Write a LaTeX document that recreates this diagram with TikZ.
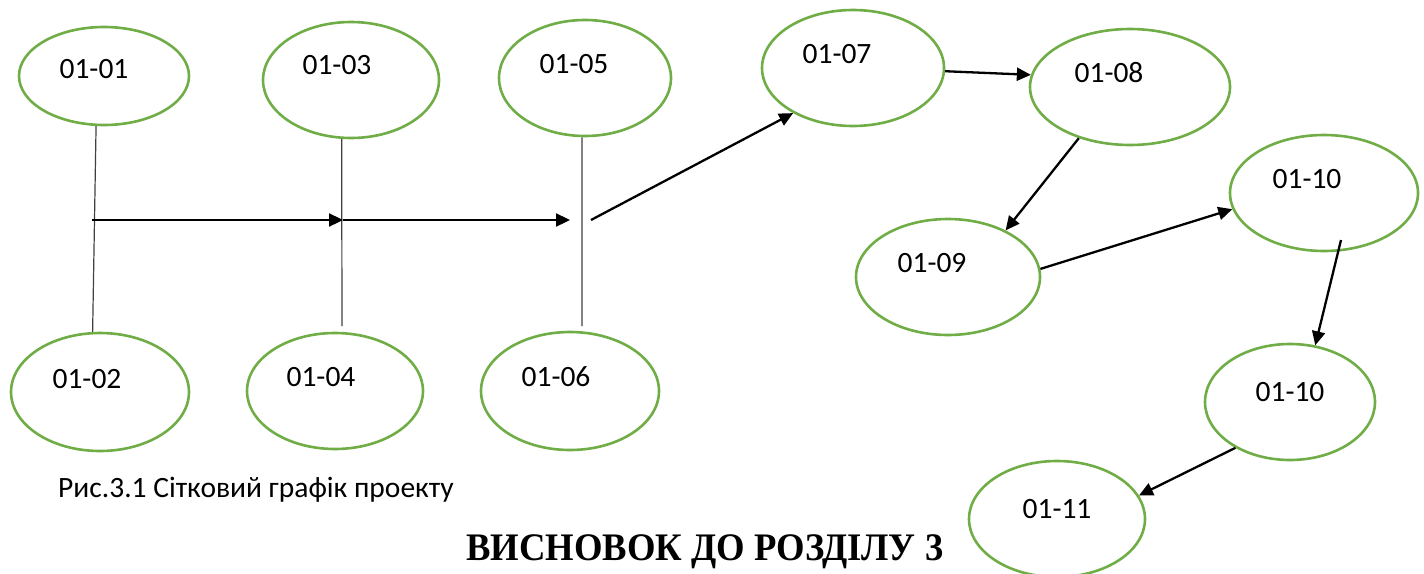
\documentclass[tikz,border=0pt]{standalone}
\usepackage{fontspec}
\setmainfont{Carlito}
\newfontfamily\titlefont{Liberation Serif}
\usetikzlibrary{shapes.geometric,arrows.meta}
\definecolor{nodegreen}{HTML}{70AD47}
\begin{document}
\begin{tikzpicture}[x=1pt,y=-1pt,
  ev/.style n args={2}{ellipse,draw=nodegreen,line width=2.6pt,inner sep=0pt,
     minimum width=#1,minimum height=#2},
  lbl/.style={font=\fontsize{29.5}{31}\selectfont,inner sep=0pt},
  arr/.style={-{Triangle[length=14pt,width=13pt]},line width=2.3pt,draw=black},
  vline/.style={line width=1.2pt,draw=black!75}]
\useasboundingbox (0,0) rectangle (1424,573);
% top row
\node[ev={170}{98},label={[lbl,xshift=-10pt,yshift=7pt]center:01-01}] (n1) at (104,76) {};
\node[ev={176}{116},label={[lbl,xshift=-14pt,yshift=15pt]center:01-03}] (n3) at (351,80) {};
\node[ev={172}{116},label={[lbl,xshift=-11pt,yshift=14pt]center:01-05}] (n5) at (585,78) {};
\node[ev={182}{116},label={[lbl,xshift=-16pt,yshift=14pt]center:01-07}] (n7) at (853,68) {};
\node[ev={200}{116},label={[lbl,xshift=-21pt,yshift=14pt]center:01-08}] (n8) at (1130,87) {};
\node[ev={184}{116},label={[lbl,xshift=-16pt,yshift=14pt]center:01-09}] (n9) at (948,277) {};
\node[ev={188}{116},label={[lbl,xshift=-17pt,yshift=14pt]center:01-10}] (n10a) at (1324,193) {};
% bottom row
\node[ev={178}{118},label={[lbl,xshift=-13pt,yshift=13pt]center:01-02}] (n2) at (100,392) {};
\node[ev={176}{116},label={[lbl,xshift=-14pt,yshift=14pt]center:01-04}] (n4) at (335,391) {};
\node[ev={178}{118},label={[lbl,xshift=-14pt,yshift=14pt]center:01-06}] (n6) at (570,391) {};
\node[ev={170}{116},label={[lbl,xshift=0pt,yshift=10pt]center:01-10}] (n10b) at (1290,402) {};
\node[ev={176}{116},label={[lbl,xshift=0pt,yshift=10pt]center:01-11}] (n11) at (1057,519) {};
% free points
\coordinate (j1) at (92,220);
\coordinate (j3) at (343,220);
\coordinate (j5) at (570,220);
\coordinate (j5b) at (591,220);
\coordinate (e4) at (342,326);
\coordinate (e6) at (582,326);
\coordinate (s10) at (1341,240);
% vertical lines
\draw[vline] (n1.-99) -- (n2.97);
\draw[vline] (n3.-99) -- (e4);
\draw[vline] (n5.-93) -- (e6);
% arrows
\draw[arr] (j1) -- (j3);
\draw[arr] (j3) -- (j5);
\draw[arr] (j5b) -- (n7.217.6);
\draw[arr] (n7.-2) -- (n8.173.7);
\draw[arr] (n8.-135.6) -- (n9.39.5);
\draw[arr] (n9.5) -- (n10a.-170);
\draw[arr] (s10) -- (n10b.66.3);
\draw[arr] (n10b.220.2) -- (n11.16.3);
% texts
\node[anchor=base west,inner sep=0pt,font=\fontsize{29.5}{31}\selectfont] (cap) at (58,497) {Рис.3.1 Сітковий графік проекту};
\node[anchor=base west,inner sep=0pt,font=\titlefont\bfseries\fontsize{39}{40}\selectfont] (title) at (466,560) {\scalebox{0.94}[1]{ВИСНОВОК ДО РОЗДІЛУ 3}};
\end{tikzpicture}
\end{document}
